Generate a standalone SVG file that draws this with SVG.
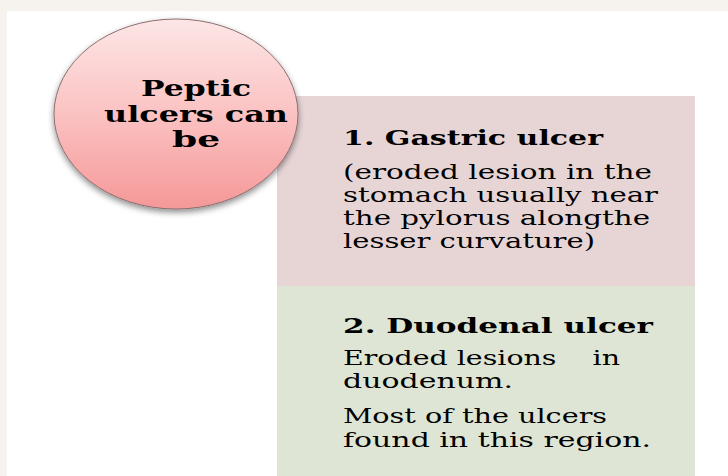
<svg xmlns="http://www.w3.org/2000/svg" width="728" height="476" viewBox="0 0 728 476">
<defs>
<style>
.b{font-family:"DejaVu Serif","Liberation Serif",serif;font-weight:bold;fill:#000}
.t{font-family:"DejaVu Serif","Liberation Serif",serif;fill:#000}
.h{font-size:21px}
.p{font-size:19.5px}
.c{font-size:22px}
</style>
<linearGradient id="pk" x1="0" y1="0" x2="0" y2="1">
<stop offset="0" stop-color="#fde6e6"/>
<stop offset="0.5" stop-color="#fbc2c2"/>
<stop offset="1" stop-color="#f59898"/>
</linearGradient>
<filter id="sh" x="-20%" y="-20%" width="140%" height="150%">
<feGaussianBlur in="SourceAlpha" stdDeviation="3"/>
<feOffset dx="0" dy="3"/>
<feComponentTransfer><feFuncA type="linear" slope="0.45"/></feComponentTransfer>
<feMerge><feMergeNode/><feMergeNode in="SourceGraphic"/></feMerge>
</filter>
</defs>
<rect x="0" y="0" width="728" height="476" fill="#f6f2ee"/>
<rect x="7" y="11" width="721" height="465" fill="#ffffff"/>
<g id="gastric">
<rect x="277" y="96" width="418" height="190" fill="#e7d5d6"/>
<text class="b h" transform="translate(343,145) scale(1.25,1)" textLength="208" lengthAdjust="spacingAndGlyphs">1. Gastric ulcer</text>
<text class="t p" transform="translate(343,179) scale(1.35,1)" textLength="228.9" lengthAdjust="spacingAndGlyphs">(eroded lesion in the</text>
<text class="t p" transform="translate(343,202) scale(1.35,1)" textLength="233.3" lengthAdjust="spacingAndGlyphs">stomach usually near</text>
<text class="t p" transform="translate(343,225) scale(1.35,1)" textLength="227.4" lengthAdjust="spacingAndGlyphs">the pylorus alongthe</text>
<text class="t p" transform="translate(343,248) scale(1.35,1)" textLength="186.7" lengthAdjust="spacingAndGlyphs">lesser curvature)</text>
</g>
<g id="duodenal">
<rect x="277" y="286" width="418" height="190" fill="#dee5d4"/>
<text class="b h" transform="translate(343,333) scale(1.25,1)" textLength="248" lengthAdjust="spacingAndGlyphs">2. Duodenal ulcer</text>
<text class="t p" transform="translate(343,365) scale(1.35,1)" textLength="205.2" lengthAdjust="spacingAndGlyphs" xml:space="preserve">Eroded lesions    in</text>
<text class="t p" transform="translate(343,388) scale(1.35,1)" textLength="125.9" lengthAdjust="spacingAndGlyphs">duodenum.</text>
<text class="t p" transform="translate(343,423) scale(1.35,1)" textLength="195.6" lengthAdjust="spacingAndGlyphs">Most of the ulcers</text>
<text class="t p" transform="translate(343,447) scale(1.35,1)" textLength="228.1" lengthAdjust="spacingAndGlyphs">found in this region.</text>
</g>
<g id="peptic">
<ellipse cx="176" cy="114" rx="122" ry="95" fill="url(#pk)" stroke="#8c6f6f" stroke-width="1" filter="url(#sh)"/>
<text class="b c" transform="translate(196,96) scale(1.3,1)" text-anchor="middle" textLength="84.6" lengthAdjust="spacingAndGlyphs">Peptic</text>
<text class="b c" transform="translate(196,122) scale(1.3,1)" text-anchor="middle" textLength="141.5" lengthAdjust="spacingAndGlyphs">ulcers can</text>
<text class="b c" transform="translate(196,147) scale(1.3,1)" text-anchor="middle" textLength="37" lengthAdjust="spacingAndGlyphs">be</text>
</g>
<g id="connectors"/>
</svg>
